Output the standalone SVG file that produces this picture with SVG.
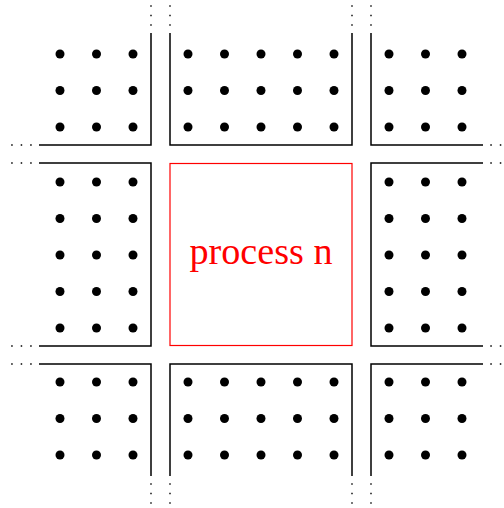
<svg xmlns="http://www.w3.org/2000/svg" width="504" height="508" viewBox="0 0 504 508">
<defs>
<style>
.ln{fill:none;stroke:#000;stroke-width:1.5}
.dt{fill:none;stroke:#000;stroke-width:1.4;stroke-dasharray:1.5 8;stroke-dashoffset:2.2}
.d{fill:#000}
.red{fill:none;stroke:#ff0000;stroke-width:1.2}
.lbl{font-family:"Liberation Serif","Times New Roman",serif;font-size:38px;fill:#ff0000}
</style>
<circle id="dot" r="4.5" class="d"/>
</defs>
<rect width="504" height="508" fill="#fff"/>
<g id="connectors">
<path class="dt" d="M151 33V3M170 33V3M352 33V3M371 33V3"/>
<path class="dt" d="M151 476V506M170 476V506M352 476V506M371 476V506"/>
<path class="dt" d="M39 145H9M39 163H9M39 346H9M39 364H9"/>
<path class="dt" d="M483 145H504M483 163H504M483 346H504M483 364H504"/>
</g>
<g id="block-top-left">
<path class="ln" d="M151 33V145H39"/>
<use href="#dot" x="60" y="54"/><use href="#dot" x="96.5" y="54"/><use href="#dot" x="133" y="54"/>
<use href="#dot" x="60" y="90.5"/><use href="#dot" x="96.5" y="90.5"/><use href="#dot" x="133" y="90.5"/>
<use href="#dot" x="60" y="127"/><use href="#dot" x="96.5" y="127"/><use href="#dot" x="133" y="127"/>
</g>
<g id="block-top-middle">
<path class="ln" d="M170 33V145H352V33"/>
<use href="#dot" x="188" y="54"/><use href="#dot" x="224.5" y="54"/><use href="#dot" x="261" y="54"/><use href="#dot" x="297.5" y="54"/><use href="#dot" x="334" y="54"/>
<use href="#dot" x="188" y="90.5"/><use href="#dot" x="224.5" y="90.5"/><use href="#dot" x="261" y="90.5"/><use href="#dot" x="297.5" y="90.5"/><use href="#dot" x="334" y="90.5"/>
<use href="#dot" x="188" y="127"/><use href="#dot" x="224.5" y="127"/><use href="#dot" x="261" y="127"/><use href="#dot" x="297.5" y="127"/><use href="#dot" x="334" y="127"/>
</g>
<g id="block-top-right">
<path class="ln" d="M371 33V145H483"/>
<use href="#dot" x="389" y="54"/><use href="#dot" x="425.5" y="54"/><use href="#dot" x="462" y="54"/>
<use href="#dot" x="389" y="90.5"/><use href="#dot" x="425.5" y="90.5"/><use href="#dot" x="462" y="90.5"/>
<use href="#dot" x="389" y="127"/><use href="#dot" x="425.5" y="127"/><use href="#dot" x="462" y="127"/>
</g>
<g id="block-middle-left">
<path class="ln" d="M39 163H151V346H39"/>
<use href="#dot" x="60" y="182"/><use href="#dot" x="96.5" y="182"/><use href="#dot" x="133" y="182"/>
<use href="#dot" x="60" y="218.5"/><use href="#dot" x="96.5" y="218.5"/><use href="#dot" x="133" y="218.5"/>
<use href="#dot" x="60" y="255"/><use href="#dot" x="96.5" y="255"/><use href="#dot" x="133" y="255"/>
<use href="#dot" x="60" y="291.5"/><use href="#dot" x="96.5" y="291.5"/><use href="#dot" x="133" y="291.5"/>
<use href="#dot" x="60" y="328"/><use href="#dot" x="96.5" y="328"/><use href="#dot" x="133" y="328"/>
</g>
<g id="process-n">
<rect class="red" x="170" y="163.5" width="182" height="182"/>
<text class="lbl" x="261" y="264" text-anchor="middle" textLength="143" lengthAdjust="spacingAndGlyphs">process n</text>
</g>
<g id="block-middle-right">
<path class="ln" d="M483 163H371V346H483"/>
<use href="#dot" x="389" y="182"/><use href="#dot" x="425.5" y="182"/><use href="#dot" x="462" y="182"/>
<use href="#dot" x="389" y="218.5"/><use href="#dot" x="425.5" y="218.5"/><use href="#dot" x="462" y="218.5"/>
<use href="#dot" x="389" y="255"/><use href="#dot" x="425.5" y="255"/><use href="#dot" x="462" y="255"/>
<use href="#dot" x="389" y="291.5"/><use href="#dot" x="425.5" y="291.5"/><use href="#dot" x="462" y="291.5"/>
<use href="#dot" x="389" y="328"/><use href="#dot" x="425.5" y="328"/><use href="#dot" x="462" y="328"/>
</g>
<g id="block-bottom-left">
<path class="ln" d="M39 364H151V476"/>
<use href="#dot" x="60" y="382"/><use href="#dot" x="96.5" y="382"/><use href="#dot" x="133" y="382"/>
<use href="#dot" x="60" y="418.5"/><use href="#dot" x="96.5" y="418.5"/><use href="#dot" x="133" y="418.5"/>
<use href="#dot" x="60" y="455"/><use href="#dot" x="96.5" y="455"/><use href="#dot" x="133" y="455"/>
</g>
<g id="block-bottom-middle">
<path class="ln" d="M170 476V364H352V476"/>
<use href="#dot" x="188" y="382"/><use href="#dot" x="224.5" y="382"/><use href="#dot" x="261" y="382"/><use href="#dot" x="297.5" y="382"/><use href="#dot" x="334" y="382"/>
<use href="#dot" x="188" y="418.5"/><use href="#dot" x="224.5" y="418.5"/><use href="#dot" x="261" y="418.5"/><use href="#dot" x="297.5" y="418.5"/><use href="#dot" x="334" y="418.5"/>
<use href="#dot" x="188" y="455"/><use href="#dot" x="224.5" y="455"/><use href="#dot" x="261" y="455"/><use href="#dot" x="297.5" y="455"/><use href="#dot" x="334" y="455"/>
</g>
<g id="block-bottom-right">
<path class="ln" d="M483 364H371V476"/>
<use href="#dot" x="389" y="382"/><use href="#dot" x="425.5" y="382"/><use href="#dot" x="462" y="382"/>
<use href="#dot" x="389" y="418.5"/><use href="#dot" x="425.5" y="418.5"/><use href="#dot" x="462" y="418.5"/>
<use href="#dot" x="389" y="455"/><use href="#dot" x="425.5" y="455"/><use href="#dot" x="462" y="455"/>
</g>
</svg>
